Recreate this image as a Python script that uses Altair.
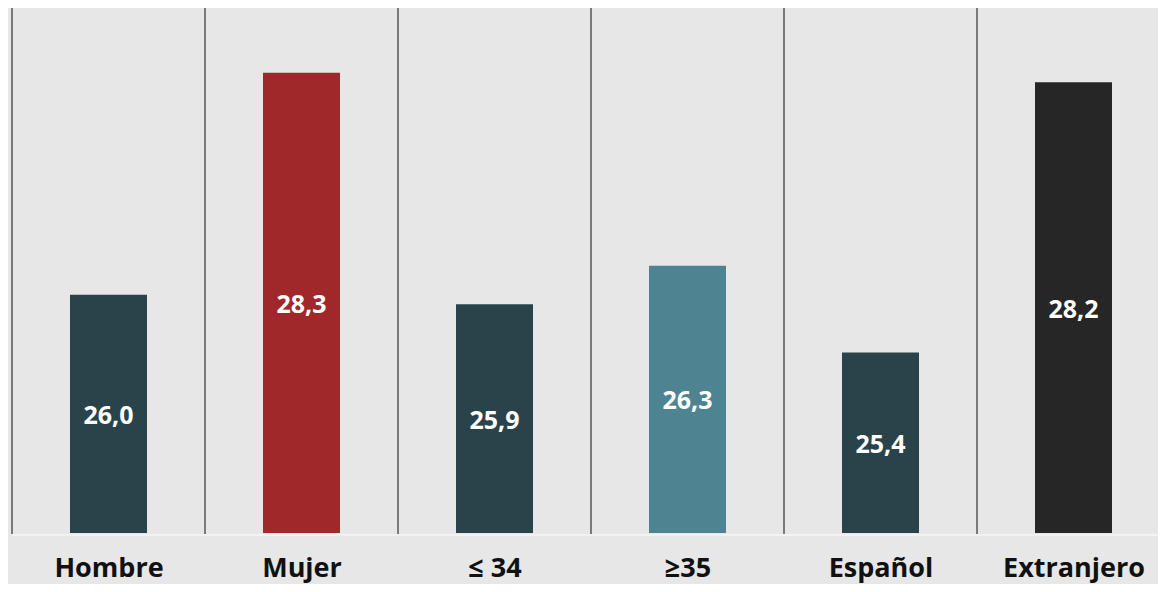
import altair as alt
import pandas as pd

categories = ["Hombre", "Mujer", "≤ 34", "≥35", "Español", "Extranjero"]
values = [26.0, 28.3, 25.9, 26.3, 25.4, 28.2]
labels = ["26,0", "28,3", "25,9", "26,3", "25,4", "28,2"]
colors = ["#2a434b", "#a0282b", "#2a434b", "#4e8492", "#2a434b", "#262626"]

df = pd.DataFrame({
    "cat": categories,
    "idx": list(range(len(categories))),
    "value": values,
    "label": labels,
    "color": colors,
})

W, H = 1146, 525
STEP = 193.0
y_min = 23.53
y_domain = [y_min, 28.97]

cat_js = "[" + ",".join("'" + c + "'" for c in categories) + "]"

x_scale = alt.Scale(domain=[0, W / STEP], nice=False, zero=False, padding=0)
y_scale = alt.Scale(domain=y_domain, zero=False, nice=False, clamp=True)

x_axis = alt.Axis(title=None, domain=False, ticks=False, tickSize=0, grid=False,
                  values=[i + 0.5 for i in range(len(categories))],
                  labelExpr=cat_js + "[floor(datum.value)]",
                  labelAngle=0, labelFont="Open Sans", labelFontWeight="bold",
                  labelFontSize=27, labelColor="#111111", labelPadding=43,
                  labelBaseline="alphabetic", labelAlign="center",
                  labelFlush=False, labelOverlap=False)

base = alt.Chart(df).transform_calculate(
    center="datum.idx + 0.5",
    mid="(datum.value + %f) / 2" % y_min,
)

bars = base.mark_bar(size=77).encode(
    x=alt.X("center:Q", scale=x_scale, axis=x_axis),
    y=alt.Y("value:Q", scale=y_scale, axis=None),
    y2=alt.datum(y_min),
    color=alt.Color("color:N", scale=None),
)

seps = base.mark_rule(color="#7a7a7a", strokeWidth=2).encode(
    x=alt.X("idx:Q", scale=x_scale, axis=x_axis),
    y=alt.value(0),
    y2=alt.value(526),
)

baseline = base.mark_rule(color="#f2f2f2", strokeWidth=2).encode(
    x=alt.value(0), x2=alt.value(W), y=alt.value(527)
)

text = base.mark_text(
    font="Open Sans", fontWeight="bold", fontSize=25, color="white",
    baseline="middle", dy=2
).encode(
    x=alt.X("center:Q", scale=x_scale, axis=x_axis),
    y=alt.Y("mid:Q", scale=y_scale, axis=None),
    text="label:N",
)

chart = alt.layer(bars, baseline, seps, text).properties(
    width=W, height=H,
    background="#e7e7e7",
    padding={"left": 4, "top": 0, "right": 0, "bottom": 51},
    autosize=alt.AutoSizeParams(type="none"),
).configure_view(stroke=None)

chart.save("out.html", embed_options={"renderer": "svg", "actions": False})
